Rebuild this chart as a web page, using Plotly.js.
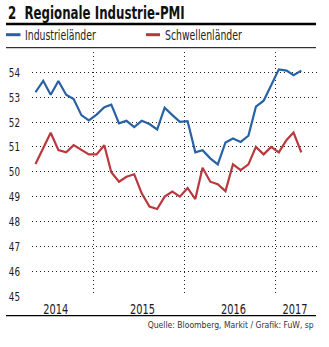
<!DOCTYPE html>
<html>
<head>
<meta charset="utf-8">
<script src="https://cdn.plot.ly/plotly-3.0.1.min.js"></script>
<style>html,body{margin:0;padding:0;background:#fff;}#chart{width:329px;height:347px;}</style>
</head>
<body>
<div id="chart"></div>
<script>
const months = ['2014-05-15','2014-06-15','2014-07-15','2014-08-15','2014-09-15','2014-10-15','2014-11-15','2014-12-15',
  '2015-01-15','2015-02-15','2015-03-15','2015-04-15','2015-05-15','2015-06-15','2015-07-15','2015-08-15','2015-09-15','2015-10-15','2015-11-15','2015-12-15',
  '2016-01-15','2016-02-15','2016-03-15','2016-04-15','2016-05-15','2016-06-15','2016-07-15','2016-08-15','2016-09-15','2016-10-15','2016-11-15','2016-12-15',
  '2017-01-15','2017-02-15','2017-03-15','2017-04-15'];
const industrie = [53.2,53.66,53.1,53.65,53.1,52.93,52.28,52.07,52.3,52.6,
  52.7,51.95,52.05,51.8,52.05,51.92,51.7,52.58,52.28,52.01,
  52.04,50.78,50.87,50.54,50.3,51.18,51.34,51.2,51.45,52.62,
  52.86,53.49,54.12,54.07,53.89,54.07];
const schwellen = [50.31,50.94,51.57,50.87,50.78,51.07,50.87,50.7,50.7,51.07,
  49.98,49.6,49.8,49.9,49.13,48.6,48.5,49.0,49.2,49.0,
  49.35,48.9,50.16,49.6,49.5,49.22,50.3,50.07,50.3,51.0,
  50.7,51.0,50.78,51.28,51.58,50.78];
const seriesNames = ['Industrieländer','Schwellenländer'];
const seriesColors = ['#2862a4','#b8383e'];
const yTicks = [45,46,47,48,49,50,51,52,53,54];
const xTickVals = ['2014-08-04','2015-07-18','2016-07-17','2017-03-21'];
const xTickText = ['2014','2015','2016','2017'];
const titleText = '2  Regionale Industrie-PMI';
const sourceText = 'Quelle: Bloomberg, Markit / Grafik: FuW, sp';

const W = 329, H = 347;
const L = 32, R = 12, T = 52, B = 51;
const pw = W - L - R, ph = H - T - B;
const px = x => (x - L) / pw;
const py = y => (H - B - y) / ph;
const FONT = '"DejaVu Sans Condensed", "DejaVu Sans", sans-serif';

const traces = [
  {x: months, y: industrie, name: seriesNames[0], type: 'scatter', mode: 'lines',
   line: {color: seriesColors[0], width: 2.2}},
  {x: months, y: schwellen, name: seriesNames[1], type: 'scatter', mode: 'lines',
   line: {color: seriesColors[1], width: 2.2}}
];

const layout = {
  width: W, height: H,
  margin: {l: L, r: R, t: T, b: B, pad: 0},
  paper_bgcolor: '#fff', plot_bgcolor: '#fff',
  showlegend: false,
  font: {family: FONT, color: '#222', size: 13},
  title: {text: '<b>' + titleText + '</b>', x: 8 / W, xanchor: 'left', xref: 'container',
          y: 1 - 12.5 / H, yanchor: 'middle', yref: 'container',
          font: {family: FONT, size: 18, color: '#111'}},
  xaxis: {
    type: 'date', range: ['2014-05-01', '2017-06-17'],
    tickmode: 'array', tickvals: xTickVals, ticktext: xTickText,
    showgrid: false, zeroline: false, showline: false, ticks: '',
    ticklabelstandoff: 3,
    tickfont: {family: FONT, size: 14, color: '#1a1a1a'},
    minor: {tick0: '2014-01-01', dtick: 'M12', showgrid: true, gridcolor: '#222',
            gridwidth: 1, griddash: '1px,3px', ticks: ''},
    fixedrange: true
  },
  yaxis: {
    range: [45, 54.82], tickmode: 'array', tickvals: yTicks,
    showgrid: true, gridcolor: '#222', gridwidth: 1, griddash: '1px,3px',
    zeroline: false, showline: false, ticks: '',
    ticklabelstandoff: 11,
    tickfont: {family: FONT, size: 13, color: '#1a1a1a'},
    fixedrange: true
  },
  shapes: [
    {type: 'line', xref: 'paper', yref: 'paper', x0: px(6), x1: px(316), y0: py(24), y1: py(24),
     line: {color: '#000', width: 2.6}},
    {type: 'line', xref: 'paper', yref: 'paper', x0: px(6), x1: px(20.5), y0: py(34.7), y1: py(34.7),
     line: {color: seriesColors[0], width: 3}},
    {type: 'line', xref: 'paper', yref: 'paper', x0: px(146), x1: px(160), y0: py(34.7), y1: py(34.7),
     line: {color: seriesColors[1], width: 3}},
    {type: 'line', xref: 'paper', yref: 'paper', x0: px(6), x1: px(316), y0: py(47.7), y1: py(47.7),
     line: {color: '#000', width: 1}},
    {type: 'line', xref: 'paper', yref: 'paper', x0: px(6), x1: px(316), y0: py(315.7), y1: py(315.7),
     line: {color: '#000', width: 1.3}}
  ],
  annotations: [
    {text: seriesNames[0], xref: 'paper', yref: 'paper', x: px(23), y: py(35), xanchor: 'left', yanchor: 'middle',
     showarrow: false, font: {family: FONT, size: 14, color: '#222'}},
    {text: seriesNames[1], xref: 'paper', yref: 'paper', x: px(163), y: py(35), xanchor: 'left', yanchor: 'middle',
     showarrow: false, font: {family: FONT, size: 14, color: '#222'}},
    {text: sourceText, xref: 'paper', yref: 'paper', x: px(316), y: py(324.5), xanchor: 'right', yanchor: 'middle',
     showarrow: false, font: {family: FONT, size: 9.5, color: '#333'}}
  ]
};

// narrow the text horizontally to imitate the condensed typeface of the original
function squeeze(el, s, keep) {
  const bb = el.getBBox();
  const ax = keep === 'right' ? bb.x + bb.width : keep === 'center' ? bb.x + bb.width / 2 : bb.x;
  const tr = el.getAttribute('transform') || '';
  el.setAttribute('transform', tr + ' translate(' + ax + ',0) scale(' + s + ',1) translate(' + (-ax) + ',0)');
}

Plotly.newPlot('chart', traces, layout, {staticPlot: true, displayModeBar: false}).then(gd => {
  gd.querySelectorAll('.gtitle').forEach(t => squeeze(t, 0.73, 'left'));
  gd.querySelectorAll('.ytick text').forEach(t => squeeze(t, 0.75, 'right'));
  gd.querySelectorAll('.xtick text').forEach(t => squeeze(t, 0.78, 'center'));
  const ann = gd.querySelectorAll('.annotation-text');
  if (ann[0]) squeeze(ann[0], 0.74, 'left');
  if (ann[1]) squeeze(ann[1], 0.74, 'left');
  if (ann[2]) squeeze(ann[2], 0.9, 'right');
});
</script>
</body>
</html>
